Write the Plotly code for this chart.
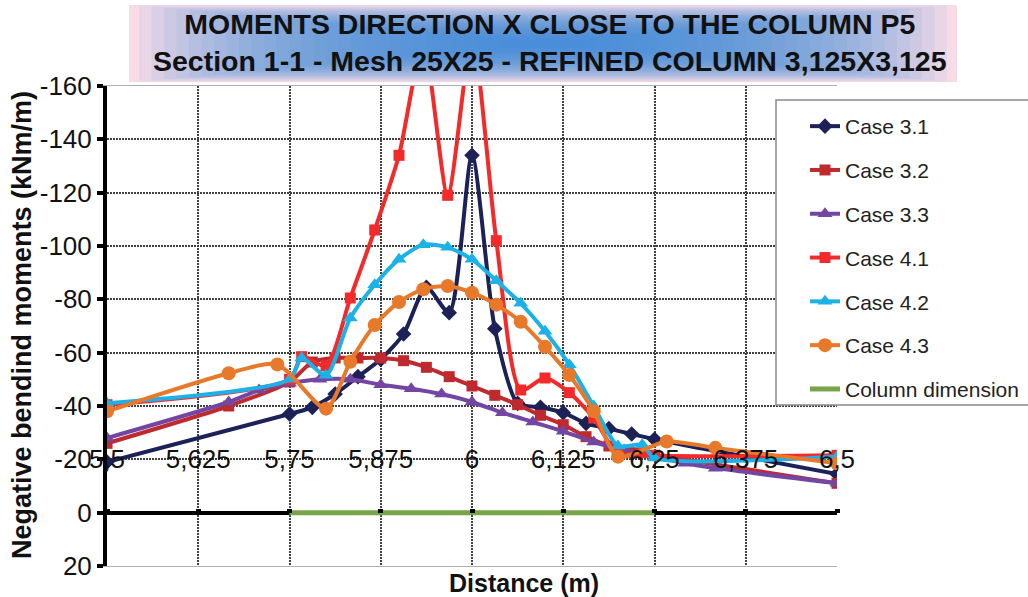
import plotly.graph_objects as go

# ---------------- data ----------------
x_31 = [5.5, 5.75, 5.78125, 5.8125, 5.84375, 5.875, 5.90625, 5.9375, 5.96875, 6.0,
        6.03125, 6.0625, 6.09375, 6.125, 6.15625, 6.1875, 6.21875, 6.25, 6.5]
y_31 = [-19, -37, -39.5, -44.5, -51, -57.5, -67, -84.5, -75, -134,
        -69, -41, -39.5, -37.5, -33.5, -31.5, -29.5, -27.5, -14.5]

x_32 = [5.5, 5.6667, 5.75, 5.78125, 5.8125, 5.84375, 5.875, 5.90625, 5.9375, 5.96875, 6.0,
        6.03125, 6.0625, 6.09375, 6.125, 6.15625, 6.1875, 6.21875, 6.25, 6.5]
y_32 = [-26, -40, -49, -56.5, -58, -58, -58, -57, -54.5, -51, -47.5,
        -44, -40.5, -36.5, -33, -28.5, -25, -22.5, -21.5, -11]

x_33 = [5.5, 5.6667, 5.7083, 5.75, 5.7917, 5.8333, 5.875, 5.9167, 5.9583, 6.0,
        6.0417, 6.0833, 6.125, 6.1667, 6.2083, 6.25, 6.2917, 6.3333, 6.5]
y_33 = [-28, -41.5, -46, -48.5, -50, -50, -48, -46.5, -44.5, -41.5,
        -37.5, -34, -30.5, -26.5, -23.5, -21, -18.5, -16.7, -11]

x_41 = [5.5, 5.75, 5.7667, 5.8, 5.8333, 5.8667, 5.9, 5.9333, 5.9667, 6.0,
        6.0333, 6.0667, 6.1, 6.1333, 6.1667, 6.2, 6.2333, 6.25, 6.5]
y_41 = [-40.5, -50, -58.5, -55, -80.5, -106, -134, -176, -119, -178,
        -102, -46, -50.5, -45, -35.5, -22, -22.5, -21.5, -21.5]

x_42 = [5.5, 5.75, 5.7667, 5.8, 5.8333, 5.8667, 5.9, 5.9333, 5.9667, 6.0,
        6.0333, 6.0667, 6.1, 6.1333, 6.1667, 6.2, 6.2333, 6.25, 6.5]
y_42 = [-41, -50, -58, -51.5, -73, -85.5, -95, -100.5, -99.5, -95,
        -87, -78.5, -68, -55.5, -40, -25, -25.5, -20.5, -21]

x_43 = [5.5, 5.6667, 5.7333, 5.8, 5.8333, 5.8667, 5.9, 5.9333, 5.9667, 6.0,
        6.0333, 6.0667, 6.1, 6.1333, 6.1667, 6.2, 6.2667, 6.3333, 6.5]
y_43 = [-38, -52.3, -55.6, -39, -56.6, -70.4, -79, -83.8, -85, -82.5,
        -78, -71.6, -62.2, -51.6, -38, -21, -26.7, -24.3, -18.5]

column_x = [5.75, 6.25]
column_y = [0, 0]

x_tickvals = [5.5, 5.625, 5.75, 5.875, 6.0, 6.125, 6.25, 6.375, 6.5]
x_ticktext = ["5,5", "5,625", "5,75", "5,875", "6", "6,125", "6,25", "6,375", "6,5"]
y_tickvals = [-160, -140, -120, -100, -80, -60, -40, -20, 0, 20]
y_ticktext = ["-160", "-140", "-120", "-100", "-80", "-60", "-40", "-20", "0", "20"]

names = ["Case 3.1", "Case 3.2", "Case 3.3", "Case 4.1", "Case 4.2", "Case 4.3"]
colors = ["#1c2157", "#bf2a2e", "#7446a4", "#f42a2a", "#1cb2e8", "#e8792a"]
symbols = ["diamond", "square", "triangle-up", "square", "triangle-up", "circle"]
sizes = [12, 11, 13, 11, 13, 14]

FONT = "Liberation Sans, Arial, sans-serif"

# ---------------- layout geometry (pixels) ----------------
W, H = 1028, 597
L, R, T, B = 107, 837, 86, 566


def px2x(px):
    return (px - L) / (R - L)


def px2y(py):
    return (B - py) / (B - T)


fig = go.Figure()

series_x = [x_31, x_32, x_33, x_41, x_42, x_43]
series_y = [y_31, y_32, y_33, y_41, y_42, y_43]
for name, xs, ys, c, sym, sz in zip(names, series_x, series_y, colors, symbols, sizes):
    fig.add_trace(go.Scatter(
        x=xs, y=ys, name=name, mode="lines+markers", legendgroup=name,
        line=dict(color=c, width=4, shape="spline", smoothing=0.7),
        marker=dict(symbol=sym, size=sz, color=c),
    ))

fig.add_trace(go.Scatter(
    x=column_x, y=column_y, name="Column dimension", mode="lines",
    legendgroup="column", line=dict(color="#77a547", width=5),
))

# hidden trace for the secondary (labelled) x axis
fig.add_trace(go.Scatter(x=[x_tickvals[0]], y=[None], xaxis="x2", showlegend=False,
                         hoverinfo="skip", mode="markers"))

shapes = []
# title background (approximate radial gradient)
tx0, tx1, ty0, ty1 = 129, 957, 5, 82
shapes.append(dict(type="rect", xref="paper", yref="paper", layer="below",
                   x0=px2x(tx0), x1=px2x(tx1), y0=px2y(ty1), y1=px2y(ty0),
                   fillcolor="#f7dce7", line=dict(width=0)))
n = 30
for i in range(n):
    ix = 10 + i * 12.5
    iy = 0.5 + i * 1.2
    shapes.append(dict(type="rect", xref="paper", yref="paper", layer="below",
                       x0=px2x(tx0 + ix), x1=px2x(tx1 - ix),
                       y0=px2y(ty1 - iy), y1=px2y(ty0 + iy),
                       fillcolor="rgba(60,145,220,0.078)", line=dict(width=0)))
# legend box
shapes.append(dict(type="rect", xref="paper", yref="paper", layer="above",
                   x0=px2x(776), x1=px2x(1045), y0=px2y(405), y1=px2y(100),
                   fillcolor="white", line=dict(color="#8a8a8a", width=1.5)))

annotations = [
    dict(text="<b>MOMENTS DIRECTION X CLOSE TO THE COLUMN P5</b><br><b>Section 1-1 - Mesh 25X25 - REFINED COLUMN 3,125X3,125</b>",
         xref="paper", yref="paper", x=px2x(550), y=px2y(43), xanchor="center", yanchor="middle",
         showarrow=False, font=dict(family=FONT, size=28.5, color="#111"), align="center"),
    dict(text="<b>Negative bendind moments (kNm/m)</b>", xref="paper", yref="paper",
         x=px2x(22), y=px2y(325), xanchor="center", yanchor="middle", textangle=-90,
         showarrow=False, font=dict(family=FONT, size=27, color="#111")),
    dict(text="<b>Distance (m)</b>", xref="paper", yref="paper",
         x=px2x(524), y=px2y(583), xanchor="center", yanchor="middle",
         showarrow=False, font=dict(family=FONT, size=25, color="#111")),
]

fig.update_layout(
    width=W, height=H,
    margin=dict(l=L, r=W - R, t=T, b=H - B, pad=0, autoexpand=False),
    paper_bgcolor="white", plot_bgcolor="white",
    font=dict(family=FONT, color="#111"),
    shapes=shapes, annotations=annotations,
    showlegend=True,
    legend=dict(x=px2x(805), y=px2y(106), xanchor="left", yanchor="top",
                bgcolor="rgba(0,0,0,0)", borderwidth=0, tracegroupgap=13.5,
                traceorder="grouped",
                font=dict(family=FONT, size=21, color="#222")),
    xaxis=dict(range=[5.5, 6.5], tickvals=x_tickvals, showticklabels=False, ticks="",
               showgrid=True, gridcolor="#404040", gridwidth=2, griddash="2px,1px",
               showline=True, mirror=True, linecolor="#b0b0b0", linewidth=1,
               zeroline=False, automargin=False),
    xaxis2=dict(range=[5.5, 6.5], overlaying="x", anchor="free", position=20 / 180,
                side="top", tickvals=x_tickvals, ticktext=x_ticktext,
                ticks="outside", ticklen=4, tickwidth=5, tickcolor="black",
                ticklabelstandoff=30, showgrid=False, showline=False, zeroline=False,
                automargin=False,
                tickfont=dict(family=FONT, size=26, color="#111")),
    yaxis=dict(range=[20, -160], tickvals=y_tickvals, ticktext=y_ticktext, showgrid=True,
               gridcolor="#404040", gridwidth=2, griddash="2px,1px",
               showline=True, linecolor="black", linewidth=4,
               ticks="outside", ticklen=6, tickwidth=4, tickcolor="black",
               zeroline=True, zerolinecolor="black", zerolinewidth=4, automargin=False,
               tickfont=dict(family=FONT, size=26, color="#111")),
)

fig.write_html("out.html", config={"displayModeBar": False},
               post_script="document.body.style.margin='0px';document.body.style.padding='0px';")
